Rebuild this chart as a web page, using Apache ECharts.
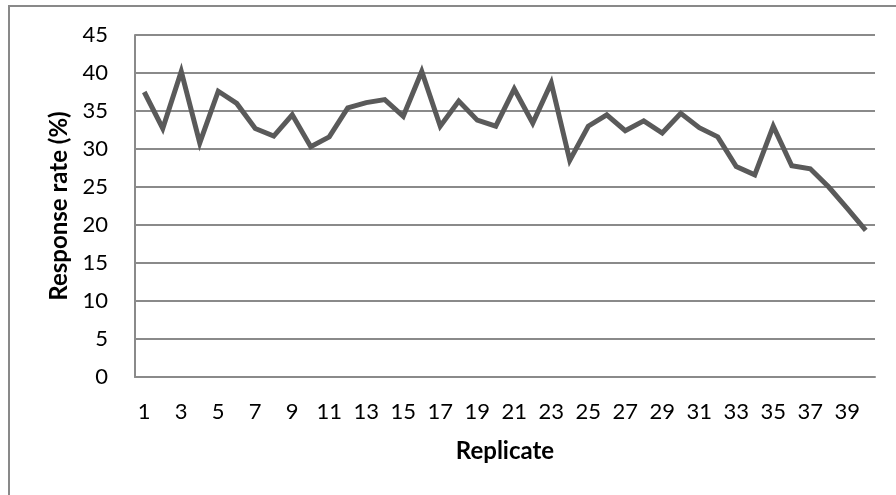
<!DOCTYPE html>
<html>
<head>
<meta charset="utf-8">
<script src="https://cdn.jsdelivr.net/npm/echarts@6/dist/echarts.min.js"></script>
<style>
  html, body { margin: 0; padding: 0; background: #fff; }
  #wrap { position: relative; width: 896px; height: 495px; }
  #frame { position: absolute; left: 8px; top: 5px; right: -4px; bottom: -4px;
           border-left: 2px solid #898989; border-top: 2px solid #898989; }
  #chart { position: absolute; left: 0; top: 0; width: 896px; height: 495px; }
</style>
</head>
<body>
<div id="wrap">
  <div id="frame"></div>
  <div id="chart"></div>
</div>
<script>
// Replicate numbers along the horizontal axis
const replicates = Array.from({ length: 40 }, (_, i) => String(i + 1));

// Response rate per replicate (%)
const responseRate = [
  37.5, 32.7, 40.2, 30.8, 37.6, 36.0, 32.7, 31.7, 34.5, 30.3,
  31.6, 35.4, 36.1, 36.5, 34.3, 40.2, 33.0, 36.3, 33.8, 33.0,
  37.9, 33.4, 38.7, 28.5, 33.0, 34.5, 32.4, 33.7, 32.1, 34.7,
  32.8, 31.6, 27.7, 26.6, 33.0, 27.8, 27.4, 25.0, 22.2, 19.3
];

// Value axis range
const yMin = 0, yMax = 45, yStep = 5;

const fontFamily = 'Lato, "Open Sans", sans-serif';
const gridColor = '#8a8a8a';

const chart = echarts.init(document.getElementById('chart'), null, { renderer: 'canvas' });
chart.setOption({
  backgroundColor: 'transparent',
  animation: false,
  grid: { left: 135, right: 21, top: 35, bottom: 118, containLabel: false },
  xAxis: {
    type: 'category',
    data: replicates,
    boundaryGap: true,
    name: 'Replicate',
    nameLocation: 'middle',
    nameGap: 62,
    nameTextStyle: { fontFamily, fontSize: 24, fontWeight: 'bold', color: '#000' },
    axisLine: { show: true, lineStyle: { color: gridColor, width: 2 } },
    axisTick: { show: false },
    axisLabel: { interval: 1, margin: 24, fontFamily, fontSize: 22, color: '#000' },
    splitLine: { show: false }
  },
  yAxis: {
    type: 'value',
    min: yMin, max: yMax, interval: yStep,
    name: 'Response rate (%)',
    nameLocation: 'middle',
    nameGap: 63,
    nameTextStyle: { fontFamily, fontSize: 24, fontWeight: 'bold', color: '#000' },
    axisLine: { show: true, lineStyle: { color: gridColor, width: 2 } },
    axisTick: { show: false },
    axisLabel: { margin: 27, fontFamily, fontSize: 22, color: '#000' },
    splitLine: { show: true, lineStyle: { color: gridColor, width: 2 } }
  },
  series: [{
    type: 'line',
    data: responseRate,
    symbol: 'none',
    lineStyle: { color: '#5a5a5a', width: 5, join: 'miter', cap: 'butt' },
    z: 5
  }]
});
</script>
</body>
</html>
